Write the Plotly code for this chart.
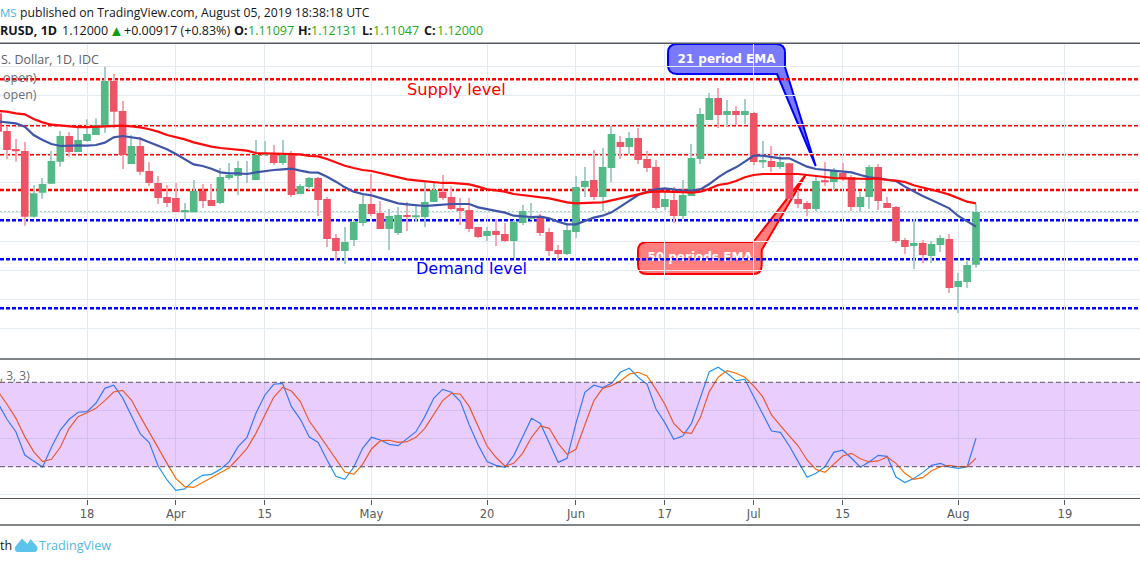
import numpy as np
import plotly.graph_objects as go

bar = list(range(-10, 101))
open_ = [1.13689,1.13387,1.13079,1.13045,1.1192,1.12331,1.12485,1.12862,1.13301,1.13027,
 1.13216,1.13318,1.13478,1.14243,1.13729,1.12822,1.1313,1.12702,1.12497,1.12257,
 1.1224,1.11994,1.11994,1.1236,1.12205,1.12154,1.12582,1.12616,1.12548,
 1.12548,1.12976,1.1301,1.12839,1.12976,1.12308,1.12428,1.12582,1.12223,1.11555,
 1.11332,1.11521,1.11812,1.12137,1.11983,1.11709,1.1164,1.11949,1.11914,1.11914,
 1.12171,1.12342,1.12257,1.12068,1.12034,1.11743,1.11589,1.11675,1.11623,1.11503,
 1.11812,1.1188,1.11932,1.11658,1.11349,1.11281,1.11658,1.12428,1.12548,1.12257,
 1.12753,1.13199,1.13113,1.13267,1.12908,1.12771,1.12086,1.12205,1.11932,1.12274,
 1.12908,1.13575,1.13952,1.13661,1.13729,1.13661,1.13695,1.12856,1.12873,1.12771,
 1.12833,1.12223,1.12154,1.12051,1.12531,1.12514,1.12668,1.12599,1.12086,1.12257,
 1.12771,1.12154,1.12086,1.11521,1.11418,1.11469,1.11247,1.11435,1.11538,1.10716,
 1.10801,1.11097]
high = [1.13718,1.13461,1.1325,1.13199,1.12462,1.12582,1.13045,1.13387,1.1337,1.13433,
 1.13587,1.13604,1.14488,1.14363,1.13901,1.13318,1.1329,1.1285,1.12616,1.12462,
 1.12497,1.12154,1.12548,1.12479,1.12479,1.12753,1.12839,1.12873,1.12873,
 1.13233,1.13216,1.13147,1.13233,1.13045,1.12479,1.12599,1.12599,1.12257,1.11623,
 1.11743,1.11863,1.12291,1.12651,1.12188,1.12051,1.12086,1.12171,1.1212,1.12514,
 1.12531,1.12634,1.12445,1.1224,1.1224,1.11743,1.11743,1.1188,1.11812,1.11863,
 1.1212,1.12154,1.11966,1.11726,1.11435,1.11777,1.12616,1.12771,1.13062,1.13096,
 1.13473,1.13301,1.1337,1.13438,1.13045,1.1289,1.12411,1.12428,1.12548,1.13164,
 1.13781,1.14038,1.14123,1.13918,1.13815,1.13935,1.13718,1.13216,1.1313,1.12976,
 1.12839,1.12377,1.12188,1.12634,1.12856,1.12753,1.12839,1.12634,1.1236,1.12805,
 1.12822,1.12257,1.12103,1.11555,1.1188,1.11521,1.11503,1.11606,1.11623,1.10955,
 1.11178,1.12131]
low = [1.13347,1.12902,1.12862,1.11766,1.11903,1.12228,1.12479,1.12776,1.12947,1.13027,
 1.13204,1.13318,1.13353,1.13433,1.12736,1.12822,1.12634,1.12445,1.12137,1.12086,
 1.12,1.11863,1.11994,1.12068,1.12103,1.12137,1.12548,1.12291,1.12497,
 1.12548,1.12976,1.12805,1.12805,1.12257,1.12308,1.12377,1.11932,1.11401,1.11178,
 1.1111,1.11418,1.1176,1.11932,1.11709,1.11349,1.11606,1.11675,1.11829,1.11743,
 1.12171,1.12205,1.12034,1.11777,1.11658,1.11555,1.11503,1.11418,1.11486,1.11212,
 1.11777,1.11863,1.11589,1.11247,1.11195,1.11264,1.11555,1.12257,1.12205,1.12017,
 1.12514,1.12908,1.12993,1.12822,1.12685,1.12034,1.12034,1.11812,1.1188,1.12274,
 1.12822,1.13575,1.13438,1.13473,1.1349,1.13507,1.12805,1.12753,1.12685,1.12736,
 1.12205,1.12068,1.11932,1.12017,1.12445,1.12377,1.12531,1.12017,1.12,1.12051,
 1.12034,1.12068,1.11469,1.11281,1.11024,1.11127,1.11127,1.11315,1.10613,1.10271,
 1.10699,1.11047]
close = [1.13376,1.13062,1.13045,1.1192,1.1232,1.12479,1.12873,1.13301,1.13027,1.13233,
 1.13336,1.1349,1.14243,1.13718,1.12976,1.1313,1.12691,1.12497,1.1224,1.12154,
 1.12,1.12034,1.1236,1.12188,1.12103,1.12599,1.12634,1.12753,1.12548,
 1.12976,1.1301,1.12839,1.12976,1.12291,1.12445,1.12582,1.12205,1.11538,1.11332,
 1.11486,1.11829,1.12137,1.11966,1.11709,1.11932,1.11949,1.11914,1.11932,1.12171,
 1.12377,1.1224,1.12051,1.12017,1.11709,1.11572,1.11675,1.11606,1.11503,1.11829,
 1.12017,1.11932,1.1164,1.11332,1.11281,1.11692,1.12428,1.12531,1.12257,1.12771,
 1.13336,1.13113,1.13267,1.1289,1.12753,1.12068,1.12223,1.11932,1.12291,1.12925,
 1.13678,1.13952,1.13661,1.13729,1.13661,1.13729,1.12856,1.1289,1.12771,1.12856,
 1.12223,1.12137,1.12051,1.12531,1.12514,1.12702,1.12565,1.12086,1.12257,1.12771,
 1.12188,1.12068,1.11503,1.11401,1.11469,1.11264,1.11452,1.11555,1.10699,1.10819,
 1.11092,1.12]

ema21 = [1.13553,1.13541,1.13518,1.13461,1.13318,1.13233,1.13164,1.1313,1.13142,1.13142,
 1.13136,1.13147,1.13187,1.13279,1.13301,1.13279,1.13256,1.13193,1.1313,1.13073,
 1.12993,1.12908,1.12816,1.12788,1.12742,1.12679,1.12662,1.12662,1.12651,
 1.12679,1.12702,1.12719,1.12731,1.12742,1.12708,1.12679,1.12673,1.12605,1.12519,
 1.12422,1.12348,1.12308,1.12285,1.1224,1.12188,1.12148,1.12131,1.1212,1.12103,
 1.12114,1.12131,1.12137,1.12137,1.12137,1.1208,1.12046,1.12017,
 1.11989,1.11937,1.1192,1.11914,1.1192,1.11892,1.11834,1.11789,1.11789,1.11846,
 1.11903,1.11937,1.11994,1.12091,1.12194,1.12291,1.12348,1.12388,1.12405,1.12388,
 1.12365,1.12365,1.12388,1.12479,1.12594,1.12691,1.12765,1.12862,
 1.12965,1.12965,1.12936,1.12919,1.12919,1.12845,1.12776,1.12736,1.12719,1.12702,
 1.12685,1.12679,1.12634,1.12594,1.12576,1.12554,1.12531,1.12434,1.12348,1.12274,
 1.12205,1.12131,1.12063,1.11932,1.11834,1.11749]
ema50 = [1.13729,1.13718,1.13689,1.13672,1.13592,1.13535,1.13495,1.13478,1.13461,1.13455,
 1.13455,1.13461,1.13473,1.13478,1.13478,1.13467,1.1345,1.13416,1.13376,1.13318,
 1.13284,1.13244,1.13193,1.13153,1.13119,1.13096,1.13079,1.13067,1.1305,
 1.1301,1.13005,1.12999,1.12999,1.12999,1.12987,1.12959,1.12953,1.12908,1.1285,
 1.12793,1.12753,1.12719,1.12702,1.12668,1.12628,1.12594,1.12559,1.12542,1.12525,
 1.12508,1.12497,1.12497,1.12485,1.12474,1.12434,1.12388,1.12371,
 1.12348,1.12308,1.12291,1.12274,1.12257,1.12234,1.122,1.12166,1.12148,1.12148,
 1.1216,1.12166,1.122,1.12234,1.12274,1.12303,1.12337,1.12354,1.12354,1.12342,
 1.12342,1.12331,1.12348,1.12399,1.12462,1.12485,1.12531,1.12594,
 1.12634,1.12651,1.12651,1.12662,1.12662,1.12651,1.12634,1.12616,1.12594,1.12582,
 1.12576,1.12571,1.12565,1.12565,1.12576,1.12548,1.12536,1.12514,1.12457,1.12422,
 1.12377,1.12342,1.12297,1.12234,1.12177,1.12148]

stoch_k = [65.1,53.7,44.9,28.3,24.1,19.8,33.8,46.1,53.7,58.7,
 59.1,65.1,75.7,77.9,69.1,55.6,43.3,37.1,20.5,10.6,3.2,4.2,10.1,13.9,14.6,18.1,23.6,34.3,40.9,
 58,70.8,78.6,79.3,62.7,53.7,41.1,37.3,24.8,13.2,11,19.6,33.1,40.9,39,35.9,35,40.2,44.9,55.6,
 68.6,75,72.9,66.3,49.7,35.4,23.6,21,19.6,27.9,40.7,54.4,50.8,36.6,23.1,26,
 50.8,72.9,77.9,76.2,79.3,87.1,90,83.6,78.6,61,51.3,39.5,41.8,50.8,69.3,87.6,90.7,86.4,81.2,82.1,
 69.8,58,45.4,44.4,34.7,23.6,12.5,15.3,20,30.2,31.7,26,19.6,23.6,28.1,27.4,12.7,8.7,11.7,15.8,
 21,22.4,19.8,18.9,19.8,40.2]
stoch_d = [73.4,64.4,54.4,41.4,30.7,23.6,25.3,33.8,47.3,55.6,
 58.4,61.5,67,73.1,74.3,67.4,55.6,44.2,33.1,22.4,11.7,5.8,5.3,8.7,12.2,15.3,19.3,26,33.1,
 43.7,56.8,69.3,76.4,73.8,66.3,52.5,43.7,34.7,25.3,16.2,14.6,21.7,32.6,38.5,38.8,37.3,37.8,40.9,47.3,
 57.5,67,72.2,71.5,62.7,48.5,34.7,26.7,20.5,22.4,29.5,40.9,49,47.3,36.6,28.8,
 32.4,49.7,66.7,75.7,77.6,81,85.9,87.1,84.5,75,64.4,50.8,44.4,43.7,55.1,73.4,83.6,88.3,86.4,83.6,
 77.4,69.8,56.8,49.2,41.8,34.7,24.8,18.1,16,21.9,27.6,29.5,25.7,23.4,24.1,26.9,22.4,15.3,11,12.2,
 17.2,20,21,20,20,26]

supply_levels = [1.14272, 1.13485, 1.12988, 1.12377]
demand_levels = [1.11858, 1.1119, 1.10351]
last_price = 1.12
band = [20, 80]
tick_bars = [0, 10, 20, 32, 45, 55, 65, 75, 85, 98, 110]
tick_labels = ["18", "Apr", "15", "May", "20", "Jun", "17", "Jul", "15", "Aug", "19"]

W, H = 1140, 562
px = lambda x: x / W
py = lambda y: 1 - y / H
def path(points):
    out = []
    for cmd, *c in points:
        nums = " ".join(f"{px(c[k]):.5f} {py(c[k+1]):.5f}" for k in range(0, len(c), 2))
        out.append(f"{cmd} {nums}")
    return " ".join(out) + " Z"

GRID = "#e3ebf1"
RED, GREEN = "#ef5366", "#53b987"
FONT = "Open Sans"

o, h, l, c = map(np.array, (open_, high, low, close))
up = c >= o
x = np.array(bar)

fig = go.Figure()
fig.add_trace(go.Bar(x=x[up], y=(h - l)[up], base=l[up], width=0.125, marker=dict(color="#a6cfca", line_width=0), name="wick up"))
fig.add_trace(go.Bar(x=x[~up], y=(h - l)[~up], base=l[~up], width=0.125, marker=dict(color="#f6a8b3", line_width=0), name="wick down"))
fig.add_trace(go.Bar(x=x[up], y=(c - o)[up], base=o[up], width=0.86, marker=dict(color=GREEN, line_width=0), name="up"))
fig.add_trace(go.Bar(x=x[~up], y=(o - c)[~up], base=c[~up], width=0.86, marker=dict(color=RED, line_width=0), name="down"))
fig.add_trace(go.Scatter(x=bar, y=ema21, mode="lines", line=dict(color="#3f55a8", width=2.2), name="EMA 21"))
fig.add_trace(go.Scatter(x=bar, y=ema50, mode="lines", line=dict(color="#ff0a0a", width=2.2), name="EMA 50"))
fig.add_trace(go.Scatter(x=bar, y=stoch_k, mode="lines", line=dict(color="#2196f3", width=1.2), xaxis="x2", yaxis="y2", name="%K"))
fig.add_trace(go.Scatter(x=bar, y=stoch_d, mode="lines", line=dict(color="#ff6d00", width=1.2), xaxis="x2", yaxis="y2", name="%D"))

shapes = []
shapes.append(dict(type="path", xref="paper", yref="paper", layer="below",
    path=path([("M",677,44),("L",776,44),("Q",785,44,785,53),("L",785,67),("L",815.7,166),("L",777,74),
               ("L",677,74),("Q",668,74,668,65),("L",668,53),("Q",668,44,677,44)]),
    fillcolor="rgba(0,0,255,0.52)", line=dict(color="#0000ff", width=2)))
shapes.append(dict(type="path", xref="paper", yref="paper", layer="below",
    path=path([("M",647,242),("L",753.3,242),("L",806,174.3),("L",761.7,250),("L",761.7,265),("Q",761.7,274,753,274),
               ("L",647,274),("Q",638,274,638,265),("L",638,251),("Q",638,242,647,242)]),
    fillcolor="rgba(255,0,0,0.5)", line=dict(color="#ff0000", width=2)))
for txt, x0, x1, y0, y1 in [("21 period EMA", 668, 785, 43, 73), ("50 periods EMA", 638, 762, 240, 272)]:
    shapes.append(dict(type="rect", xref="paper", yref="paper", layer="below",
        x0=px(x0), x1=px(x1), y0=py(y1), y1=py(y0), fillcolor="rgba(0,0,0,0)", line=dict(width=0),
        label=dict(text="<b>" + txt + "</b>", font=dict(family="DejaVu Sans", size=12, color="white"), textposition="middle center")))
for lv in supply_levels:
    shapes.append(dict(type="line", xref="paper", yref="y", layer="below", x0=0, x1=1, y0=lv, y1=lv,
                       line=dict(color="#ff0000", width=2.4, dash="4px,2px")))
for lv in demand_levels:
    shapes.append(dict(type="line", xref="paper", yref="y", layer="below", x0=0, x1=1, y0=lv, y1=lv,
                       line=dict(color="#0000ff", width=2.4, dash="4px,2px")))
shapes.append(dict(type="line", xref="paper", yref="y", layer="below", x0=0, x1=1, y0=last_price, y1=last_price,
                   line=dict(color="#3caf7c", width=1, dash="2px,2px")))
shapes.append(dict(type="rect", xref="paper", yref="y2", layer="above", x0=0, x1=1, y0=band[0], y1=band[1],
                   fillcolor="rgba(145,10,245,0.2)", line=dict(width=0)))
for lv in band:
    shapes.append(dict(type="line", xref="paper", yref="y2", layer="above", x0=0, x1=1, y0=lv, y1=lv,
                       line=dict(color="#58505f", width=1, dash="5px,3px")))
for yy, col, wd in [(43.3, "#555b60", 1.4), (359, "#555b60", 1.4), (525, "#555b60", 1.4)]:
    shapes.append(dict(type="line", xref="paper", yref="paper", layer="above", x0=0, x1=1, y0=py(yy), y1=py(yy),
                       line=dict(color=col, width=wd)))
shapes.append(dict(type="path", xref="paper", yref="paper", layer="above",
    path=path([("M",15,547),("L",22,538.5),("L",27.5,544),("L",30.5,539),("L",37.5,547),("Q",38,552,34,552),("L",18,552),("Q",14,552,15,547)]),
    fillcolor="#5cc3ea", line=dict(width=0)))

ann = []
def text(x_, y_, s, color="#131722", size=12.5, anchor="left", family=FONT):
    ann.append(dict(x=px(x_), y=py(y_), xref="paper", yref="paper", text=s, showarrow=False, xanchor=anchor, yanchor="middle",
                    font=dict(family=family, size=size, color=color), borderpad=0, borderwidth=0))
TG = "#22a822"
text(0, 12, "MS", "#45b4e6", 11.5)
text(20, 12, "published on TradingView.com, August 05, 2019 18:38:18 UTC", size=12.2)
text(0, 30, "<b>RUSD, 1D</b>")
text(62, 30, "1.12000")
text(109, 30, "▲", "#12a012", 15)
text(124, 30, "+0.00917 (+0.83%)")
text(234, 30, "<b>O:</b>")
text(248, 30, "1.11097", TG)
text(298, 30, "<b>H:</b>")
text(311, 30, "1.12131", TG)
text(362, 30, "<b>L:</b>")
text(373, 30, "1.11047", TG)
text(424, 30, "<b>C:</b>")
text(437, 30, "1.12000", TG)
text(1, 60, "S. Dollar, 1D, IDC", "#5d6266", 12.5)
text(3, 77, "open)", "#6a6e72", 12.5)
text(3, 94, "open)", "#6a6e72", 12.5)
text(0, 375, ", 3, 3)", "#6a6e72", 12)
text(0, 545, "th", "#131722", 12.5)
text(39, 545, "TradingView", "#4fb8e6", 12.6)
text(456, 89, "Supply level", "#ff0000", 16.2, "center", "DejaVu Sans")
text(471, 268, "Demand level", "#0000ff", 16, "center", "DejaVu Sans")

rng = [-87 / 8.89, (W - 87) / 8.89]
fig.update_layout(
    width=W, height=H, autosize=False, margin=dict(l=0, r=0, t=0, b=0, pad=0),
    paper_bgcolor="white", plot_bgcolor="white", showlegend=False, barmode="overlay", hovermode=False,
    shapes=shapes, annotations=ann, font=dict(family=FONT),
    xaxis=dict(domain=[0, 1], range=rng, tickmode="array", tickvals=tick_bars, ticktext=tick_labels, showticklabels=False,
               ticks="", showgrid=True, gridcolor=GRID, gridwidth=1, zeroline=False, showline=False, anchor="y", fixedrange=True),
    yaxis=dict(domain=[py(359), py(43.3)], range=[1.12 - 147 * 0.00017123, 1.12 + 168.7 * 0.00017123], tick0=1.0, dtick=0.005,
               showticklabels=False, ticks="", showgrid=True, gridcolor=GRID, gridwidth=1, zeroline=False, showline=False, anchor="x", fixedrange=True),
    xaxis2=dict(domain=[0, 1], range=rng, tickmode="array", tickvals=tick_bars, ticktext=tick_labels, showticklabels=True,
                ticks="outside", ticklen=5, tickcolor="#555b60", tickwidth=1, tickfont=dict(family="DejaVu Sans", size=11.5, color="#555b60"),
                showgrid=True, gridcolor=GRID, gridwidth=1, zeroline=False, showline=True, linecolor="#555b60", linewidth=1.4, anchor="y2", fixedrange=True),
    yaxis2=dict(domain=[py(498.3), py(359)], range=[80 - (498.3 - 382.3) / 1.407, 80 + (382.3 - 359) / 1.407], tickmode="array", tickvals=[0, 40, 60],
                showticklabels=False, ticks="", showgrid=True, gridcolor=GRID, gridwidth=1, zeroline=False, showline=False, anchor="x2", fixedrange=True),
)
fig.write_html("out.html", config=dict(displayModeBar=False),
               post_script="document.body.style.margin='0';document.documentElement.style.overflow='hidden';")
